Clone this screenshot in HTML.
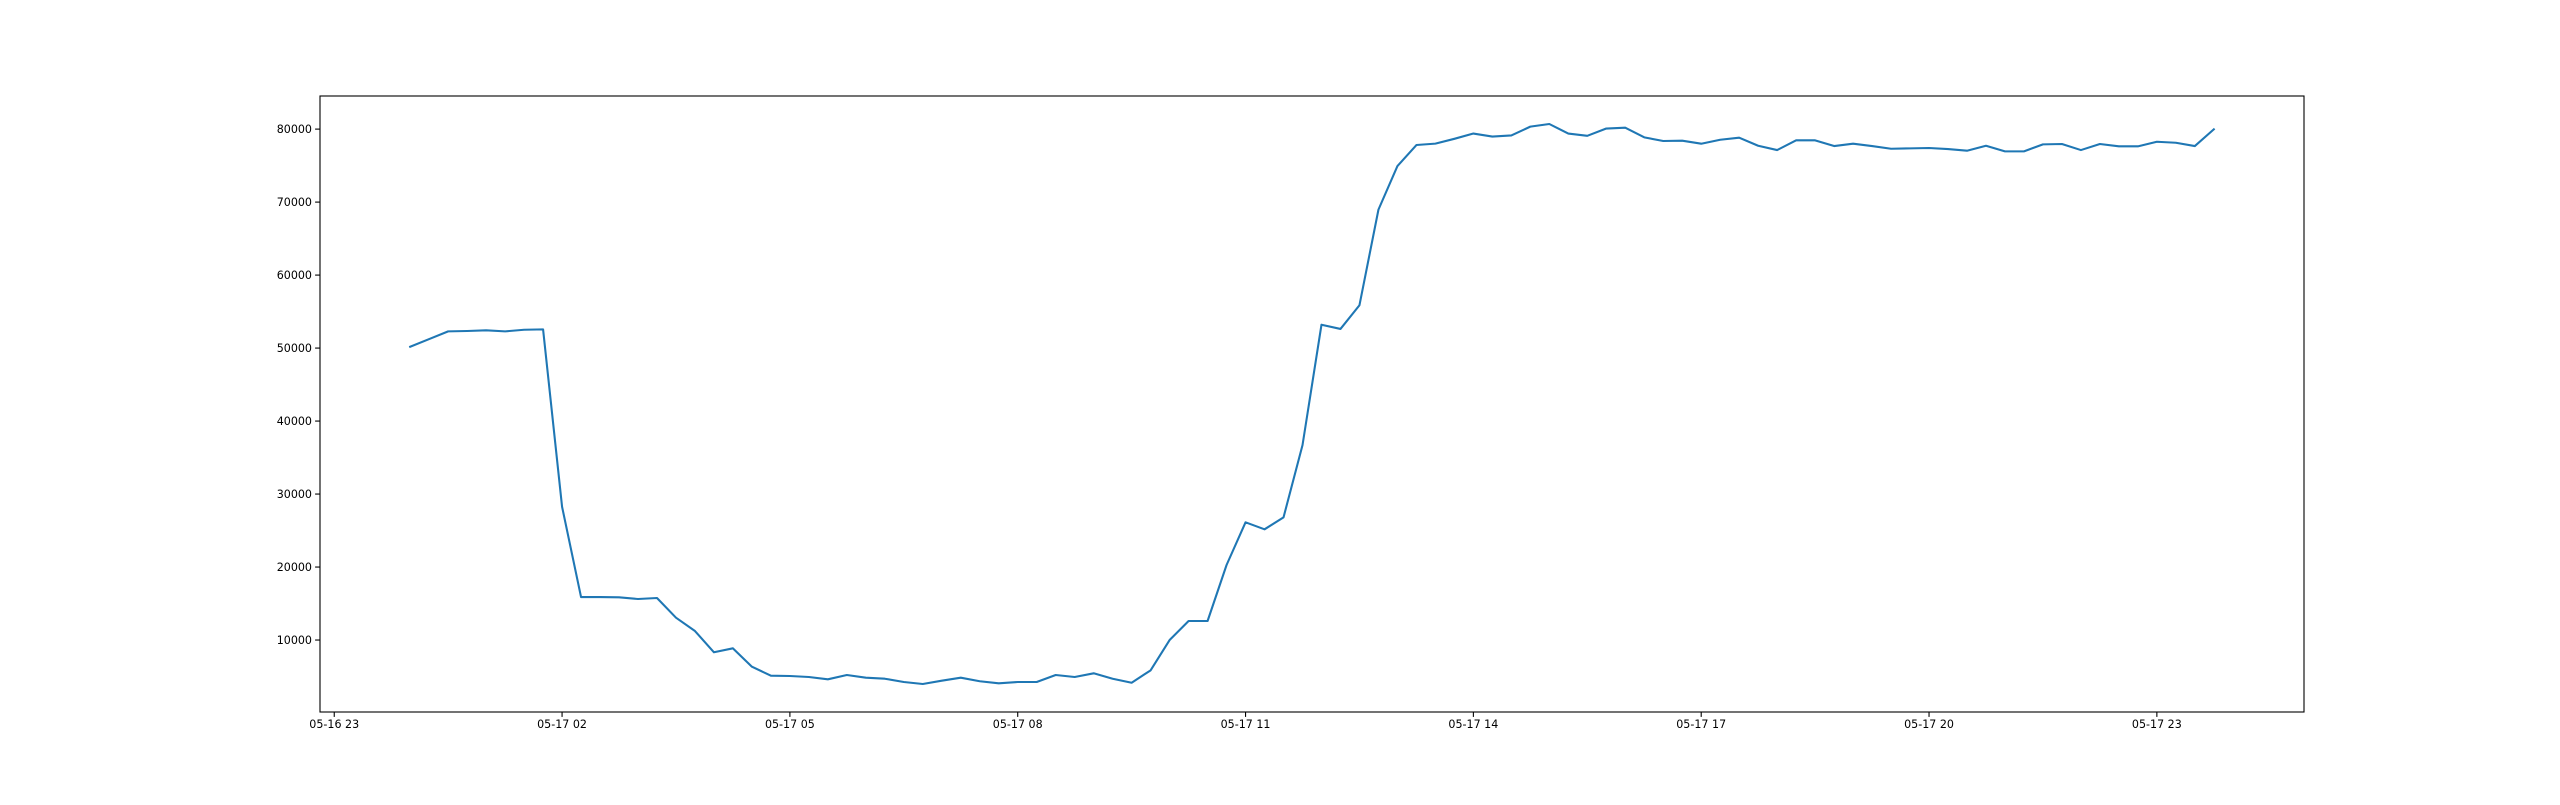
<!DOCTYPE html>
<html><head><meta charset="utf-8"><style>
html,body{margin:0;padding:0;background:#fff;}
svg text{font-family:"DejaVu Sans","Liberation Sans",sans-serif;font-size:11.1px;fill:#000;}
</style></head><body>
<svg id="chart" width="2560" height="800" xmlns="http://www.w3.org/2000/svg">
<rect x="0" y="0" width="2560" height="800" fill="#fff"/>
<g id="plot"></g>
</svg>
<script>
// hours offset from 05-17 00:00, 15-minute samples
const values = [50180,51235,52290,52340,52430,52290,52510,52560,28260,15890,15890,15850,15620,15760,13060,11235,8320,8865,6345,5115,5070,4935,4620,5210,4840,
4700,4250,3976,4430,4840,4350,4070,4250,4250,5210,4935,5440,4700,4150,5850,10000,12605,12605,20280,26130,25170,26810,36700,53200,52620,55870,68970,74940,77820,78010,
78670,79390,78980,79130,80340,80700,79390,79080,80080,80190,78870,78370,78410,78000,78540,78820,77720,77130,78460,78460,77680,78000,77680,77310,77360,77410,77270,77040,77720,76950,
76950,77910,77960,77130,77960,77640,77640,78270,78130,77680,79970];
const stepHours = 0.25;
const xTickHours = [-1,2,5,8,11,14,17,20,23];
const xTickLabels = ["05-16 23","05-17 02","05-17 05","05-17 08","05-17 11","05-17 14","05-17 17","05-17 20","05-17 23"];
const yTicks = [10000,20000,30000,40000,50000,60000,70000,80000];

const L=320,R=2304,T=96,B=712;
const hMin=0, hMax=(values.length-1)*stepHours, hPad=(hMax-hMin)*0.05;
const vMin=Math.min(...values), vMax=Math.max(...values), vPad=(vMax-vMin)*0.05;
const x0=hMin-hPad, x1=hMax+hPad, y0=vMin-vPad, y1=vMax+vPad;
const xs=h=>L+(h-x0)/(x1-x0)*(R-L);
const ys=v=>B-(v-y0)/(y1-y0)*(B-T);
const NS="http://www.w3.org/2000/svg";
const g=document.getElementById('plot');
function mk(tag,attrs){const e=document.createElementNS(NS,tag);for(const k in attrs)e.setAttribute(k,attrs[k]);g.appendChild(e);return e;}

xTickHours.forEach((h,i)=>{
  const x=xs(h);
  const t=mk('line',{x1:x,x2:x,y1:B,y2:B+4.9,stroke:'#000','stroke-width':1.1});
  
  
  const lb=mk('text',{x:x,y:B+16,'text-anchor':'middle'});
  lb.textContent=xTickLabels[i];
  
  
});
yTicks.forEach(v=>{
  const y=ys(v);
  const t=mk('line',{x1:L-4.9,x2:L,y1:y,y2:y,stroke:'#000','stroke-width':1.1});
  
  
  const lb=mk('text',{x:L-8,y:y+4,'text-anchor':'end'});
  lb.textContent=String(v);
  
  
});
const pts=values.map((v,i)=>xs(i*stepHours).toFixed(2)+','+ys(v).toFixed(2)).join(' ');
const line=mk('polyline',{points:pts,fill:'none',stroke:'#1f77b4','stroke-width':2.08,'stroke-linejoin':'round','stroke-linecap':'square'});


const frame=mk('rect',{x:L,y:T,width:R-L,height:B-T,fill:'none',stroke:'#000','stroke-width':1.1});


</script>
</body></html>
